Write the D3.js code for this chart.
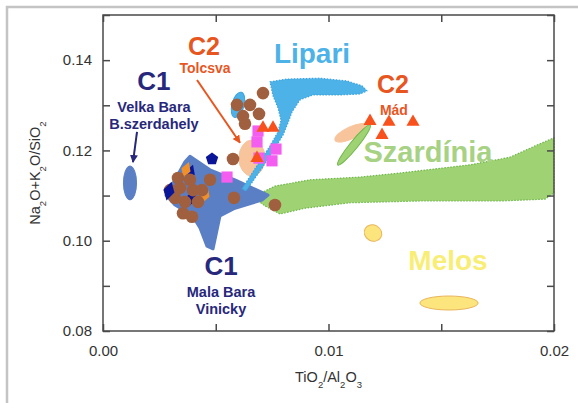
<!DOCTYPE html>
<html>
<head>
<meta charset="utf-8">
<script src="https://cdn.jsdelivr.net/npm/d3@7"></script>
<style>
    body { margin: 0; background: #fff; }
    svg { display: block; font-family: "Liberation Sans", Arial, sans-serif; }
</style>
</head>
<body>
<svg id="chart" width="578" height="403"></svg>
<script>
// axis ticks
const xTicks = [0, 0.005, 0.01, 0.015, 0.02];
const xTickLabels = ['0.00', '', '0.01', '', '0.02'];
const yTicks = [0.08, 0.09, 0.10, 0.11, 0.12, 0.13, 0.14, 0.15];
const yTickLabels = ['0.08', '', '0.10', '', '0.12', '', '0.14', ''];

// fields (TiO2/Al2O3, Na2O+K2O/SiO2)
const szardiniaField = [
    [0.006652, 0.1097], [0.007627, 0.1121], [0.00918, 0.1135], [0.011397, 0.1141],
    [0.013171, 0.115], [0.016275, 0.1168], [0.018049, 0.1185], [0.019157, 0.121],
    [0.02, 0.1228], [0.02, 0.1106], [0.019601, 0.1092], [0.017605, 0.1088],
    [0.014058, 0.1088], [0.010953, 0.1084], [0.008958, 0.1072], [0.007849, 0.1059],
    [0.007184, 0.1077]
];
const malaBaraField = [
    [0.003858, 0.1187], [0.004745, 0.1157], [0.005854, 0.1135], [0.007317, 0.1101],
    [0.007051, 0.109], [0.005854, 0.1072], [0.005188, 0.1055], [0.005011, 0.1013],
    [0.004878, 0.0982], [0.004612, 0.0988], [0.004302, 0.1028], [0.003947, 0.1057],
    [0.003193, 0.1079], [0.002794, 0.1101], [0.003193, 0.1135], [0.003636, 0.1175]
];
const lipariField = [
    [0.007406, 0.1352], [0.00816, 0.1358], [0.009623, 0.136], [0.01082, 0.1354],
    [0.011486, 0.1343], [0.011707, 0.1332], [0.011397, 0.1325], [0.01051, 0.1323],
    [0.009313, 0.1323], [0.008736, 0.1312], [0.008381, 0.1285], [0.008204, 0.1261],
    [0.007982, 0.1234], [0.007627, 0.1205], [0.007051, 0.1161], [0.006341, 0.111],
    [0.006164, 0.1115], [0.006785, 0.1163], [0.007406, 0.121], [0.007761, 0.1241],
    [0.007894, 0.1267], [0.007761, 0.1294], [0.007539, 0.1321]
];

// elliptical fields: centre, half axes (data units), tilt in degrees
const ellipseFields = [
    { group: 'c1', cx: 0.001197, cy: 0.1128, rx: 0.00029, ry: 0.00377, tilt: 0 },
    { group: 'lipari', cx: 0.005987, cy: 0.1301, rx: 0.00027, ry: 0.00288, tilt: 15 },
    { group: 'peach', cx: 0.006607, cy: 0.1183, rx: 0.00058, ry: 0.0040, tilt: 0 },
    { group: 'peach', cx: 0.010998, cy: 0.1239, rx: 0.00078, ry: 0.00133, tilt: -25 },
    { group: 'szardinia', cx: 0.011131, cy: 0.1212, rx: 0.00114, ry: 0.00089, tilt: -51 },
    { group: 'melos', cx: 0.011973, cy: 0.1017, rx: 0.0004, ry: 0.00177, tilt: 30 },
    { group: 'melos', cx: 0.015344, cy: 0.0862, rx: 0.00129, ry: 0.00155, tilt: 0 }
];

// samples
const hiddenNavy = [[0.003858, 0.115], [0.003947, 0.1095]];
const hiddenOrange = [[0.003681, 0.1157], [0.004523, 0.1101]];
const brownSamples = [
    [0.007095, 0.1327], [0.005942, 0.1301], [0.006519, 0.1301], [0.006918, 0.1281],
    [0.006208, 0.1276], [0.006297, 0.1259], [0.005765, 0.1181], [0.004745, 0.1135],
    [0.005809, 0.1095], [0.007627, 0.1079],
    [0.003326, 0.1139], [0.003858, 0.1135], [0.003415, 0.1117], [0.003991, 0.1112],
    [0.003193, 0.1095], [0.00439, 0.1112], [0.003636, 0.1086], [0.004213, 0.1086],
    [0.003548, 0.1061], [0.003947, 0.1053], [0.002971, 0.1112]
];
const navyPentagons = [[0.004834, 0.1181]];
const navyDiamonds = [[0.002927, 0.111]];
const magentaSquares = [
    [0.006874, 0.1243], [0.006829, 0.1219], [0.007672, 0.1203],
    [0.006918, 0.1183], [0.007494, 0.1177], [0.005499, 0.1141]
];
const redTriangles = [
    [0.007095, 0.125], [0.007539, 0.125], [0.006829, 0.1183],
    [0.01184, 0.1265], [0.012683, 0.1263], [0.013747, 0.1263], [0.012373, 0.1234]
];

// annotations
const labels = [
    { text: 'C1', x: 0.00226, y: 0.1334, cls: 'bigNavy' },
    { text: 'Velka Bara', x: 0.00226, y: 0.1285, cls: 'smallNavy' },
    { text: 'B.szerdahely', x: 0.00226, y: 0.1247, cls: 'smallNavy' },
    { text: 'C2', x: 0.004479, y: 0.1411, cls: 'bigRed' },
    { text: 'Tolcsva', x: 0.004523, y: 0.1372, cls: 'smallRed' },
    { text: 'Lipari', x: 0.009268, y: 0.1394, cls: 'lipari' },
    { text: 'C2', x: 0.01286, y: 0.1327, cls: 'bigRed' },
    { text: 'Mád', x: 0.0129, y: 0.1279, cls: 'smallRed' },
    { text: 'Szardínia', x: 0.014412, y: 0.1174, cls: 'szardinia' },
    { text: 'Melos', x: 0.0153, y: 0.0935, cls: 'melos' },
    { text: 'C1', x: 0.005233, y: 0.0924, cls: 'bigNavy' },
    { text: 'Mala Bara', x: 0.005233, y: 0.0875, cls: 'smallNavy' },
    { text: 'Vinicky', x: 0.005233, y: 0.0838, cls: 'smallNavy' }
];
const arrows = [
    { from: [0.001508, 0.1241], to: [0.00133, 0.1174], color: '#27287c' },
    { from: [0.004169, 0.1356], to: [0.006075, 0.1217], color: '#e8561f' }
];

const fills = {
    c1: '#5b7fc5', lipari: '#4cb2e8', peach: '#f7c49b',
    szardinia: '#9fd273', melos: '#fbe57c'
};
const strokes = {
    c1: '#5b7fc5', lipari: '#3ea3dc', peach: '#f7c49b',
    szardinia: '#6fb64c', melos: '#e9b55c'
};
const labelStyle = {
    bigNavy: { size: 26, color: '#27287c' },
    smallNavy: { size: 14.5, color: '#27287c' },
    bigRed: { size: 25, color: '#e8561f' },
    smallRed: { size: 14, color: '#e8561f' },
    lipari: { size: 28, color: '#4cb2e8' },
    szardinia: { size: 29, color: '#a7d283' },
    melos: { size: 28, color: '#f8ee76' }
};

const width = 578, height = 403;
const margin = { top: 15, right: 24, bottom: 72, left: 103 };

const svg = d3.select('#chart');

const x = d3.scaleLinear()
    .domain([0, 0.02])
    .range([margin.left, width - margin.right]);
const y = d3.scaleLinear()
    .domain([0.08, 0.15])
    .range([height - margin.bottom, margin.top]);

// outer grey frame
svg.append('path')
    .attr('d', `M7,${height} V7 H${width}`)
    .attr('fill', 'none')
    .attr('stroke', '#c4c4c4')
    .attr('stroke-width', 2.5);

const toPx = d => [x(d[0]), y(d[1])];
const area = d3.line().curve(d3.curveLinearClosed);

function field(points, group, dashed) {
    svg.append('path')
        .attr('d', area(points.map(toPx)))
        .attr('fill', fills[group])
        .attr('stroke', strokes[group])
        .attr('stroke-width', dashed ? 1.2 : 3)
        .attr('stroke-linejoin', 'round')
        .attr('stroke-dasharray', dashed ? '1.5,1.5' : null);
}

function ellipse(e) {
    const rx = x(e.cx + e.rx) - x(e.cx);
    const ry = y(e.cy) - y(e.cy + e.ry);
    svg.append('ellipse')
        .attr('transform', `translate(${x(e.cx)},${y(e.cy)}) rotate(${e.tilt})`)
        .attr('rx', rx)
        .attr('ry', ry)
        .attr('fill', fills[e.group])
        .attr('stroke', strokes[e.group])
        .attr('stroke-width', 1);
}

field(szardiniaField, 'szardinia', true);
field(malaBaraField, 'c1', false);
ellipseFields.filter(e => e.group === 'peach').forEach(ellipse);
field(lipariField, 'lipari', true);
ellipseFields.filter(e => e.group !== 'peach').forEach(ellipse);

const symbol = (type, size) => d3.symbol().type(type).size(size)();

function markers(data, path, color, rot) {
    svg.append('g')
        .selectAll('path')
        .data(data)
        .join('path')
        .attr('transform', d => `translate(${x(d[0])},${y(d[1])}) rotate(${rot || 0})`)
        .attr('d', path)
        .attr('fill', color);
}

// pentagon outline
const pentagon = d3.line()(d3.range(5).map(i => {
    const a = -Math.PI / 2 + i * 2 * Math.PI / 5;
    return [6.5 * Math.cos(a), 6.5 * Math.sin(a)];
})) + 'Z';

markers(hiddenNavy, symbol(d3.symbolDiamond, 90), '#0b1597', 20);
markers(hiddenOrange, symbol(d3.symbolDiamond, 80), '#f0902a', 20);

svg.append('g')
    .selectAll('circle')
    .data(brownSamples)
    .join('circle')
    .attr('cx', d => x(d[0]))
    .attr('cy', d => y(d[1]))
    .attr('r', 6.3)
    .attr('fill', '#a0603f');

markers(navyPentagons, pentagon, '#0b1597');
markers(navyDiamonds, symbol(d3.symbolDiamond, 110), '#0b1597', 15);
markers(magentaSquares, symbol(d3.symbolSquare, 125), '#f35ef0');
markers(redTriangles, symbol(d3.symbolTriangle, 75), '#f8511c');

// arrows
svg.append('defs').selectAll('marker')
    .data(arrows)
    .join('marker')
    .attr('id', (d, i) => 'head' + i)
    .attr('viewBox', '0 0 10 10')
    .attr('refX', 9).attr('refY', 5)
    .attr('markerWidth', 4).attr('markerHeight', 4)
    .attr('orient', 'auto')
    .append('path')
    .attr('d', 'M0,0 L10,5 L0,10 Z')
    .attr('fill', d => d.color);

svg.append('g')
    .selectAll('line')
    .data(arrows)
    .join('line')
    .attr('x1', d => x(d.from[0])).attr('y1', d => y(d.from[1]))
    .attr('x2', d => x(d.to[0])).attr('y2', d => y(d.to[1]))
    .attr('stroke', d => d.color)
    .attr('stroke-width', 2)
    .attr('marker-end', (d, i) => `url(#head${i})`);

// labels
svg.append('g')
    .selectAll('text')
    .data(labels)
    .join('text')
    .attr('x', d => x(d.x))
    .attr('y', d => y(d.y))
    .attr('text-anchor', 'middle')
    .attr('font-weight', 'bold')
    .attr('font-size', d => labelStyle[d.cls].size)
    .attr('fill', d => labelStyle[d.cls].color)
    .text(d => d.text);

// axes, ticks pointing inwards on all four sides
const axisColor = '#4a4a4a';
function styleAxis(g) {
    g.select('.domain').remove();
    g.selectAll('.tick line').attr('stroke', axisColor).attr('stroke-width', 1.5);
    g.selectAll('.tick text').attr('fill', '#333').attr('font-size', 15)
        .attr('font-family', '"Liberation Sans", Arial, sans-serif');
}

svg.append('g')
    .attr('transform', `translate(0,${y(0.08)})`)
    .call(d3.axisBottom(x).tickValues(xTicks).tickSize(-7).tickPadding(14)
        .tickFormat((d, i) => xTickLabels[i]))
    .call(styleAxis);
svg.append('g')
    .attr('transform', `translate(0,${y(0.15)})`)
    .call(d3.axisTop(x).tickValues(xTicks).tickSize(-7).tickFormat(''))
    .call(styleAxis);
svg.append('g')
    .attr('transform', `translate(${x(0)},0)`)
    .call(d3.axisLeft(y).tickValues(yTicks).tickSize(-7).tickPadding(11)
        .tickFormat((d, i) => yTickLabels[i]))
    .call(styleAxis);
svg.append('g')
    .attr('transform', `translate(${x(0.02)},0)`)
    .call(d3.axisRight(y).tickValues(yTicks).tickSize(-7).tickFormat(''))
    .call(styleAxis);

svg.append('rect')
    .attr('x', x(0)).attr('y', y(0.15))
    .attr('width', x(0.02) - x(0))
    .attr('height', y(0.08) - y(0.15))
    .attr('fill', 'none')
    .attr('stroke', axisColor)
    .attr('stroke-width', 1.5);

// axis titles with subscripts
function title(parts, tx, ty, rotate) {
    const t = svg.append('text')
        .attr('transform', `translate(${tx},${ty}) rotate(${rotate})`)
        .attr('text-anchor', 'middle')
        .attr('font-size', 14.5)
        .attr('fill', '#333');
    parts.forEach(p => {
        const s = t.append('tspan').text(p[0]);
        if (p[1]) s.attr('font-size', 9.5).attr('baseline-shift', 'sub');
    });
}
title([['TiO'], ['2', 1], ['/Al'], ['2', 1], ['O'], ['3', 1]],
    (x(0) + x(0.02)) / 2, 382, 0);
title([['Na'], ['2', 1], ['O+K'], ['2', 1], ['O/SiO'], ['2', 1]],
    40, (y(0.08) + y(0.15)) / 2, -90);
</script>
</body>
</html>
